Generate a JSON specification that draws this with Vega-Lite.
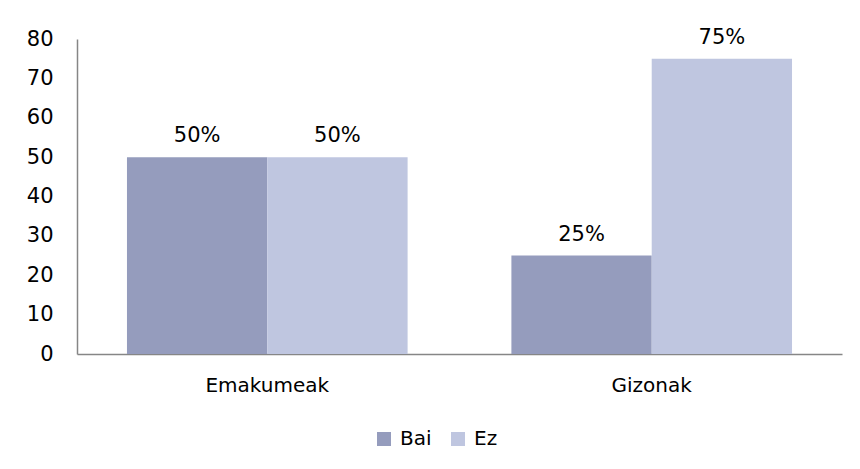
{
  "$schema": "https://vega.github.io/schema/vega-lite/v6.json",
  "width": 765,
  "height": 315,
  "padding": {"left": 26, "top": 26, "right": 10, "bottom": 10},
  "autosize": {"type": "pad"},
  "background": "white",
  "data": {"values": [
    {"group": "Emakumeak", "answer": "Bai", "value": 50, "label": "50%"},
    {"group": "Emakumeak", "answer": "Ez", "value": 50, "label": "50%"},
    {"group": "Gizonak", "answer": "Bai", "value": 25, "label": "25%"},
    {"group": "Gizonak", "answer": "Ez", "value": 75, "label": "75%"}
  ]},
  "encoding": {
    "x": {"field": "group", "type": "nominal", "title": null,
      "scale": {"paddingInner": 0.27, "paddingOuter": 0.13},
      "axis": {"labelAngle": 0, "ticks": false, "labelPadding": 21, "labelFontSize": 20, "domainColor": "#868686", "domainWidth": 1.5, "labelColor": "#000000", "labelFont": "DejaVu Sans"}},
    "xOffset": {"field": "answer", "type": "nominal", "sort": ["Bai", "Ez"]},
    "y": {"field": "value", "type": "quantitative", "title": null,
      "scale": {"domain": [0, 80]},
      "axis": {"values": [0, 10, 20, 30, 40, 50, 60, 70, 80], "grid": false, "ticks": false, "labelPadding": 24, "labelFontSize": 21, "domainColor": "#868686", "domainWidth": 1.5, "labelColor": "#000000", "labelFont": "DejaVu Sans"}}
  },
  "layer": [
    {"mark": {"type": "bar"},
      "encoding": {
        "color": {"field": "answer", "type": "nominal", "title": null,
          "scale": {"domain": ["Bai", "Ez"], "range": ["#959CBD", "#BFC6E0"]},
          "legend": {"orient": "none", "legendX": 297, "legendY": 390, "direction": "horizontal", "symbolType": "square", "symbolSize": 196, "symbolStrokeWidth": 0, "labelFontSize": 20, "labelFont": "DejaVu Sans", "labelColor": "#000000", "columnPadding": 16, "labelOffset": 6}
        }
      }},
    {"mark": {"type": "text", "baseline": "bottom", "dy": -11, "fontSize": 21, "font": "DejaVu Sans", "color": "#000000"},
      "encoding": {"text": {"field": "label"}}}
  ],
  "config": {"view": {"stroke": null}}
}
